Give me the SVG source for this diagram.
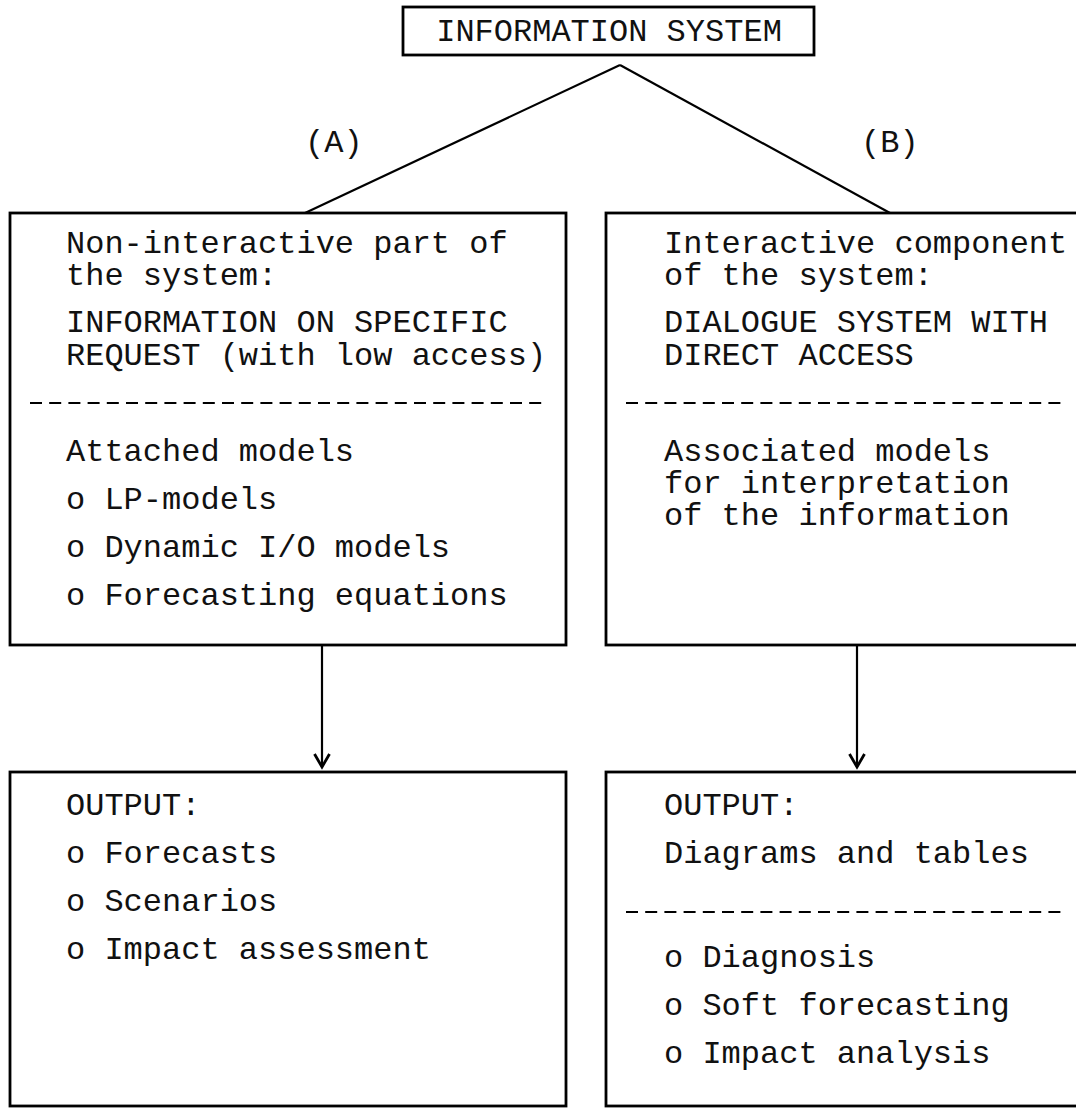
<svg xmlns="http://www.w3.org/2000/svg" width="1076" height="1109" viewBox="0 0 1076 1109">
<defs>
<style>
.box{fill:none;stroke:#000;stroke-width:2.8}
.t{font-family:"Liberation Mono","Courier New",monospace;font-size:32px;fill:#111}
.title{font-family:"Liberation Mono","Courier New",monospace;font-size:32px;fill:#111}
.dash{stroke:#000;stroke-width:2.2;stroke-dasharray:12 7.2}
.ln{stroke:#000;stroke-width:2.2;fill:none}
</style>
<marker id="ah" markerWidth="20" markerHeight="20" refX="17" refY="10" orient="auto" markerUnits="userSpaceOnUse" viewBox="0 0 20 20">
<path d="M4,2.5 L17,10 L4,17.5" fill="none" stroke="#000" stroke-width="2.8"/>
</marker>
</defs>
<rect width="1076" height="1109" fill="#fff"/>
<g id="connectors">
<line class="ln" x1="620" y1="65" x2="305" y2="213"/>
<line class="ln" x1="620" y1="65" x2="890" y2="213"/>
<line class="ln" x1="322" y1="645" x2="322" y2="767" marker-end="url(#ah)"/>
<line class="ln" x1="857" y1="645" x2="857" y2="767" marker-end="url(#ah)"/>
<text class="t" x="305" y="152">(A)</text>
<text class="t" x="861" y="152">(B)</text>
</g>
<g id="info-system">
<rect class="box" x="403" y="7" width="411" height="48"/>
<text class="title" x="609" y="41" text-anchor="middle">INFORMATION SYSTEM</text>
</g>
<g id="non-interactive">
<rect class="box" x="10" y="213" width="556" height="432"/>
<text class="t" x="66" y="253">Non-interactive part of</text>
<text class="t" x="66" y="285">the system:</text>
<text class="t" x="66" y="332">INFORMATION ON SPECIFIC</text>
<text class="t" x="66" y="365">REQUEST (with low access)</text>
<line class="dash" x1="30" y1="403" x2="548" y2="403"/>
<text class="t" x="66" y="461">Attached models</text>
<text class="t" x="66" y="509">o LP-models</text>
<text class="t" x="66" y="557">o Dynamic I/O models</text>
<text class="t" x="66" y="605">o Forecasting equations</text>
</g>
<g id="interactive">
<rect class="box" x="606" y="213" width="480" height="432"/>
<text class="t" x="664" y="253">Interactive component</text>
<text class="t" x="664" y="285">of the system:</text>
<text class="t" x="664" y="332">DIALOGUE SYSTEM WITH</text>
<text class="t" x="664" y="365">DIRECT ACCESS</text>
<line class="dash" x1="626" y1="403" x2="1066" y2="403"/>
<text class="t" x="664" y="461">Associated models</text>
<text class="t" x="664" y="493">for interpretation</text>
<text class="t" x="664" y="525">of the information</text>
</g>
<g id="output-a">
<rect class="box" x="10" y="772" width="556" height="334"/>
<text class="t" x="66" y="815">OUTPUT:</text>
<text class="t" x="66" y="863">o Forecasts</text>
<text class="t" x="66" y="911">o Scenarios</text>
<text class="t" x="66" y="959">o Impact assessment</text>
</g>
<g id="output-b">
<rect class="box" x="606" y="772" width="480" height="334"/>
<text class="t" x="664" y="815">OUTPUT:</text>
<text class="t" x="664" y="863">Diagrams and tables</text>
<line class="dash" x1="626" y1="912" x2="1066" y2="912"/>
<text class="t" x="664" y="967">o Diagnosis</text>
<text class="t" x="664" y="1015">o Soft forecasting</text>
<text class="t" x="664" y="1063">o Impact analysis</text>
</g>
</svg>
